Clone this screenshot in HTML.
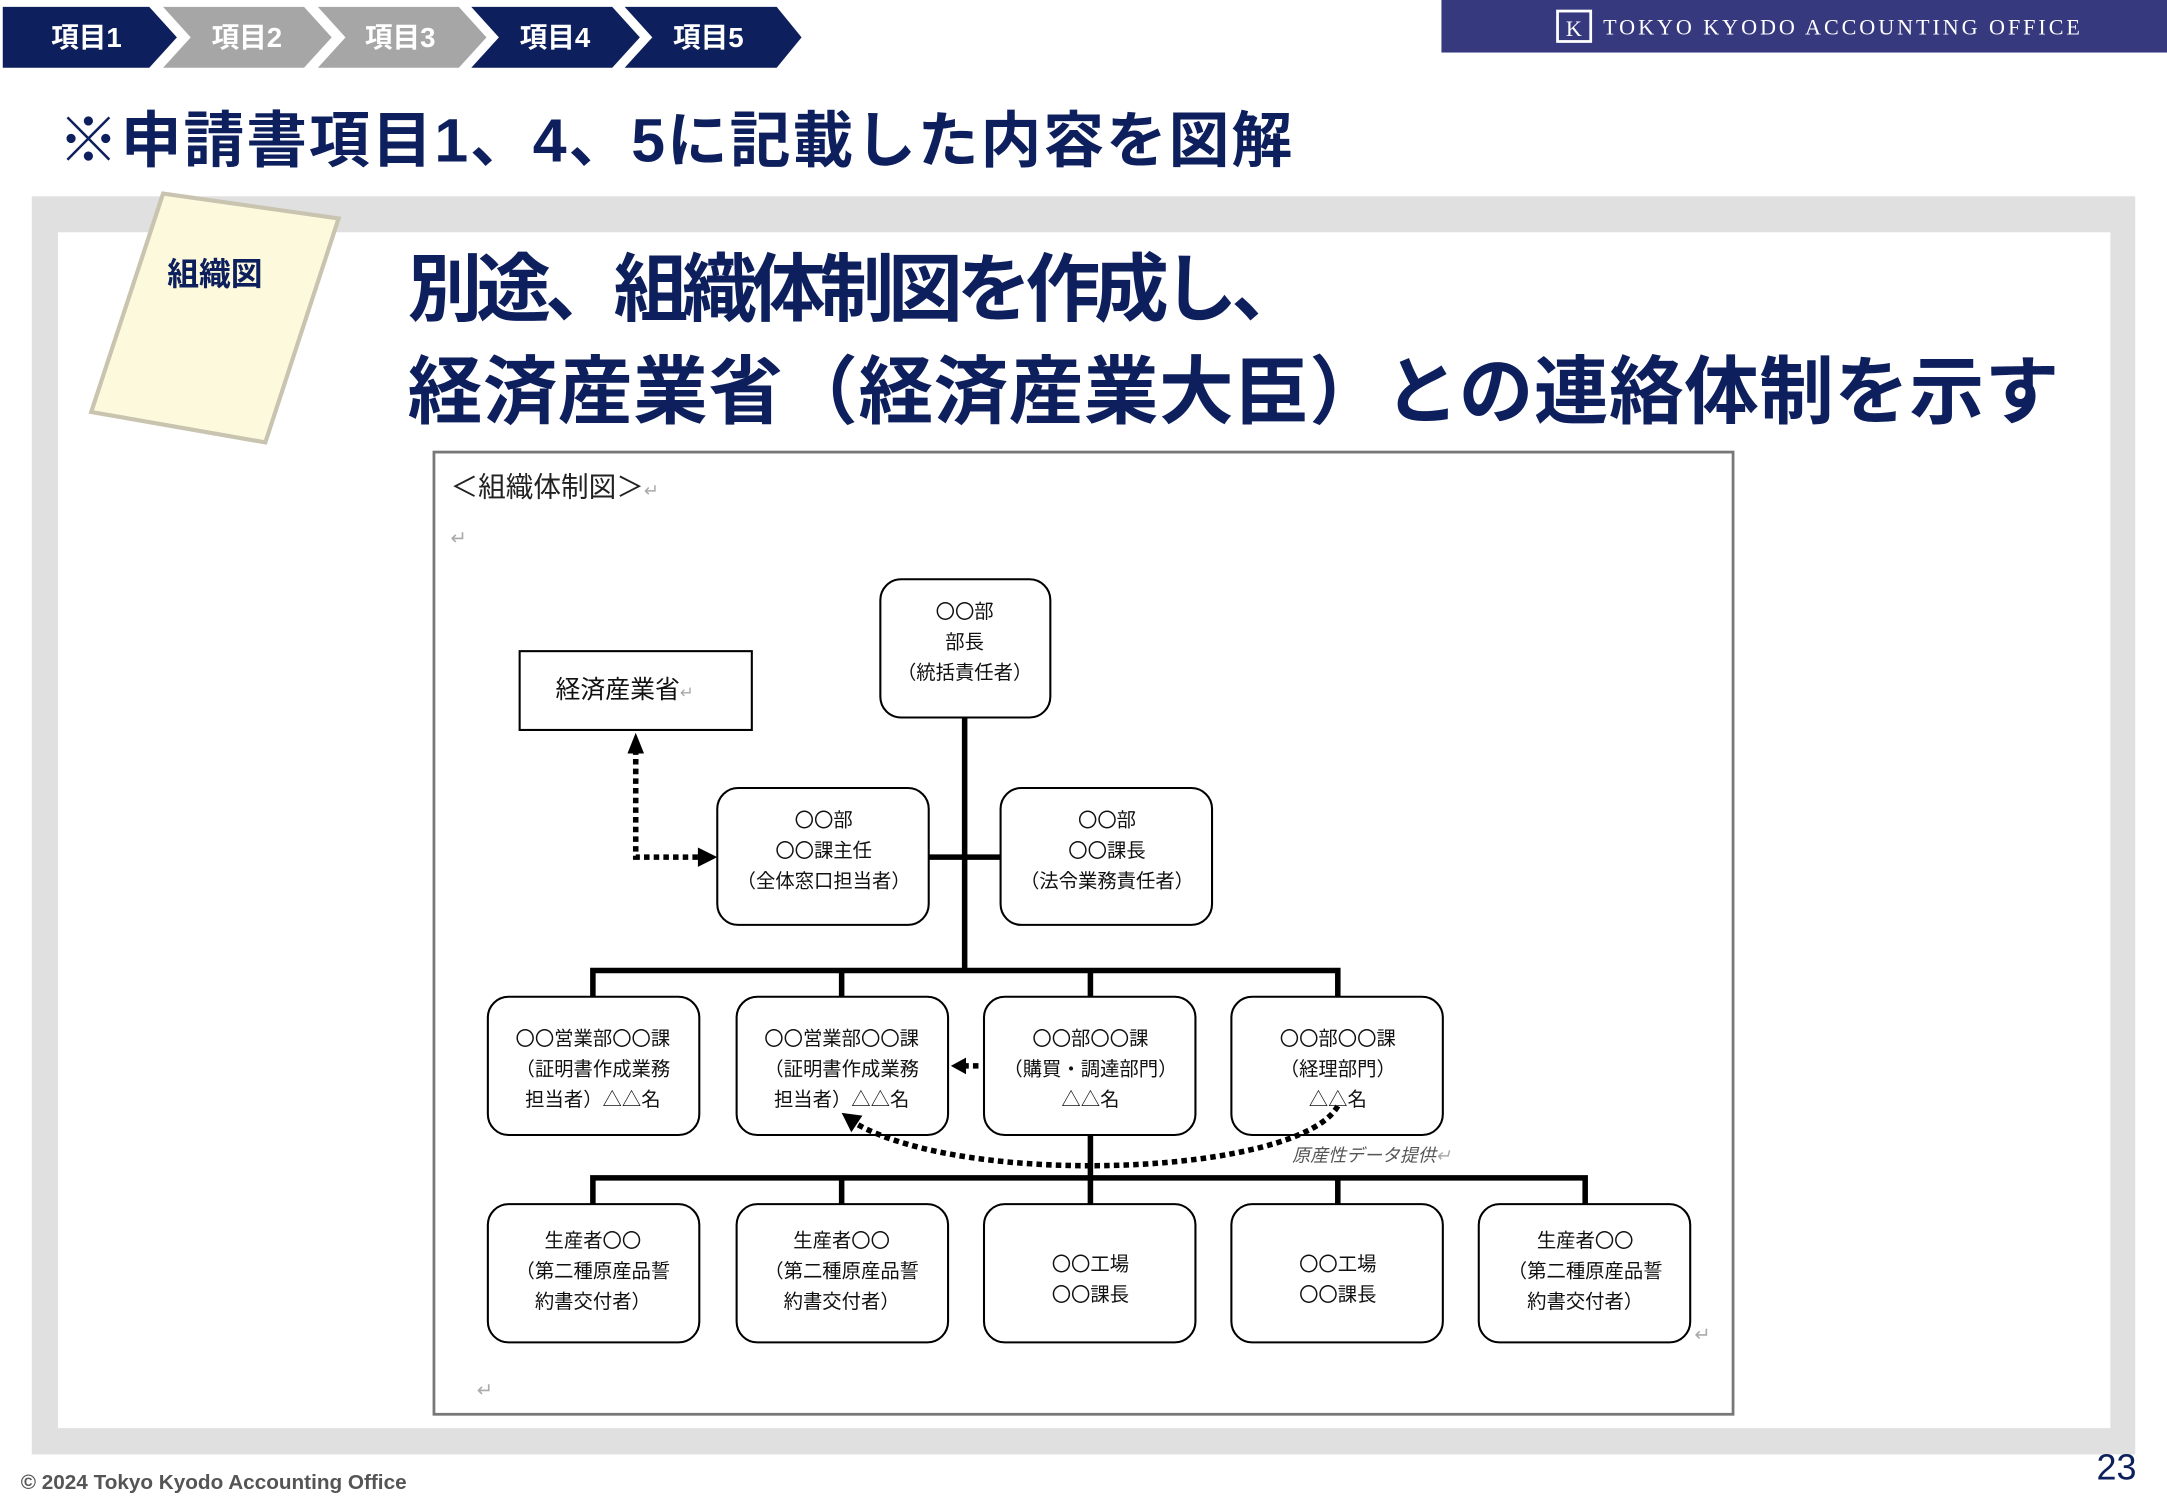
<!DOCTYPE html>
<html><head><meta charset="utf-8"><style>
body{margin:0;width:2167px;height:1500px;overflow:hidden;background:#fff}
#w{width:1568px;height:1085px;transform:scale(1.38202,1.38249);transform-origin:0 0;position:relative;font-family:"Liberation Sans","Noto Sans CJK JP",sans-serif}
.a{position:absolute}
.j{font-family:"Noto Sans CJK JP",sans-serif}
</style></head><body><div id="w">
<svg class="a" style="left:0;top:0" width="1568" height="1085">
<g font-weight="bold" font-size="20" fill="#fff">
<polygon points="2,5 108,5 128,27 108,49 2,49" fill="#0d1f5c"/>
<polygon points="118,5 220,5 240,27 220,49 118,49 138,27" fill="#a6a6a6"/>
<polygon points="230,5 332,5 352,27 332,49 230,49 250,27" fill="#a6a6a6"/>
<polygon points="341,5 443,5 463,27 443,49 341,49 361,27" fill="#0d1f5c"/>
<polygon points="452,5 562,5 580,27 562,49 452,49 472,27" fill="#0d1f5c"/>
<text x="37" y="34">項目1</text><text x="153" y="34">項目2</text><text x="264" y="34">項目3</text><text x="376" y="34">項目4</text><text x="487" y="34">項目5</text>
</g>
<rect x="1043" y="0" width="525" height="38" fill="#37397f"/>
<rect x="1127" y="8" width="24" height="22" fill="none" stroke="#fff" stroke-width="2"/>
<text x="1133" y="26" fill="#fff" font-size="16" font-family="Liberation Serif,serif">K</text>
<text x="1160" y="25" fill="#fff" font-size="16" font-family="Liberation Serif,serif" textLength="345">TOKYO KYODO ACCOUNTING OFFICE</text>
<text x="42" y="117" fill="#0d1f5c" font-size="44" font-weight="bold" textLength="893">※申請書項目1、4、5に記載した内容を図解</text>
<rect x="23" y="142" width="1522" height="910" fill="#e0e0e0"/>
<rect x="42" y="168" width="1485" height="865" fill="#fff"/>
<polygon points="118,140 245,158 192,320 66,298" fill="#fcf9dc" stroke="#c8c4b0" stroke-width="3"/>
<text x="121" y="206" fill="#0d1f5c" font-size="23" font-weight="bold">組織図</text>
<g fill="#0d1f5c" font-size="54" font-weight="bold">
<text x="295" y="228" textLength="650">別途、組織体制図を作成し、</text>
<text x="295" y="302" textLength="1195">経済産業省（経済産業大臣）との連絡体制を示す</text></g>
<rect x="314" y="327" width="940" height="696" fill="#fff" stroke="#777" stroke-width="2"/>
<text x="326" y="359" font-size="20" fill="#222" class="j">＜組織体制図＞<tspan fill="#aaa" font-size="13">↵</tspan></text>
<text x="326" y="394" font-size="14" fill="#aaa">↵</text>
<text x="345" y="1010" font-size="14" fill="#aaa">↵</text>
<g stroke="#000" stroke-width="4" fill="none">
<path d="M698,519V702M429,721V702H968V721M609,702V721M789,702V721M672,620H724M789,821V852M429,871V852H1147V871M609,852V871M968,852V871M789,852V871"/>
</g>
<g stroke="#000" stroke-width="4" stroke-dasharray="4,3" fill="none">
<path d="M460,542V620H506"/>
<path d="M708,771H697"/>
</g>
<polygon points="460,530 454,545 466,545"/>
<polygon points="519,620 505,613 505,627"/>
<polygon points="688,771 699,765 699,777"/>
<text x="935" y="840" font-size="13" fill="#555" font-style="italic" class="j">原産性データ提供<tspan fill="#aaa">↵</tspan></text>
<rect x="376" y="471" width="168" height="57" fill="#fff" stroke="#000" stroke-width="1.5"/>
<text x="402" y="505" font-size="18" fill="#111" class="j">経済産業省<tspan fill="#aaa" font-size="12">↵</tspan></text>
<g fill="#fff" stroke="#000" stroke-width="1.5">
<rect x="637" y="419" width="123" height="100" rx="15"/>
<rect x="519" y="570" width="153" height="99" rx="15"/>
<rect x="724" y="570" width="153" height="99" rx="15"/>
<rect x="353" y="721" width="153" height="100" rx="15"/><rect x="533" y="721" width="153" height="100" rx="15"/><rect x="712" y="721" width="153" height="100" rx="15"/><rect x="891" y="721" width="153" height="100" rx="15"/>
<rect x="353" y="871" width="153" height="100" rx="15"/><rect x="533" y="871" width="153" height="100" rx="15"/><rect x="712" y="871" width="153" height="100" rx="15"/><rect x="891" y="871" width="153" height="100" rx="15"/><rect x="1070" y="871" width="153" height="100" rx="15"/>
</g>
<path d="M968,800C940,850 700,860 618,812" stroke="#000" stroke-width="4" stroke-dasharray="4,3" fill="none"/>
<polygon points="609,805 624,807 616,819"/>
<g font-size="14" fill="#111" text-anchor="middle" class="j">
<text x="698" y="447">〇〇部</text><text x="698" y="469">部長</text><text x="698" y="491">（統括責任者）</text>
<text x="596" y="598">〇〇部</text><text x="596" y="620">〇〇課主任</text><text x="596" y="642">（全体窓口担当者）</text>
<text x="801" y="598">〇〇部</text><text x="801" y="620">〇〇課長</text><text x="801" y="642">（法令業務責任者）</text>
<text x="429" y="756">〇〇営業部〇〇課</text><text x="429" y="778">（証明書作成業務</text><text x="429" y="800">担当者）△△名</text>
<text x="609" y="756">〇〇営業部〇〇課</text><text x="609" y="778">（証明書作成業務</text><text x="609" y="800">担当者）△△名</text>
<text x="789" y="756">〇〇部〇〇課</text><text x="789" y="778">（購買・調達部門）</text><text x="789" y="800">△△名</text>
<text x="968" y="756">〇〇部〇〇課</text><text x="968" y="778">（経理部門）</text><text x="968" y="800">△△名</text>
<text x="429" y="902">生産者〇〇</text><text x="429" y="924">（第二種原産品誓</text><text x="429" y="946">約書交付者）</text>
<text x="609" y="902">生産者〇〇</text><text x="609" y="924">（第二種原産品誓</text><text x="609" y="946">約書交付者）</text>
<text x="789" y="919">〇〇工場</text><text x="789" y="941">〇〇課長</text>
<text x="968" y="919">〇〇工場</text><text x="968" y="941">〇〇課長</text>
<text x="1147" y="902">生産者〇〇</text><text x="1147" y="924">（第二種原産品誓</text><text x="1147" y="946">約書交付者）</text>
</g>
<text x="1226" y="970" font-size="14" fill="#aaa">↵</text>
<text x="15" y="1077" font-size="15" font-weight="bold" fill="#555">© 2024 Tokyo Kyodo Accounting Office</text>
<text x="1517" y="1070" font-size="26" fill="#0d1f5c">23</text>
</svg>
</div></body></html>
